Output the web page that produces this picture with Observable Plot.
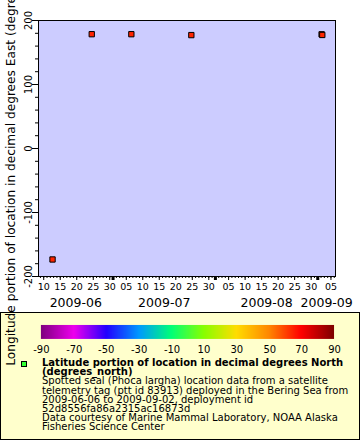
<!DOCTYPE html>
<html>
<head>
<meta charset="utf-8">
<script src="https://cdn.jsdelivr.net/npm/d3@7"></script>
<script src="https://cdn.jsdelivr.net/npm/@observablehq/plot@0.6"></script>
<style>
  html, body { margin: 0; padding: 0; background: white; }
  #wrap { position: relative; width: 360px; height: 440px; overflow: hidden; font-family: "DejaVu Sans", sans-serif; }
  #chart { position: absolute; left: 0; top: 0; z-index: 2; }
  #chart svg { overflow: visible; }
  #legend { position: absolute; left: 0; top: 312px; width: 360px; height: 128px; box-sizing: border-box;
            background: #ffffcc; border: 1px solid black; z-index: 1; }
  #cbar { position: absolute; left: -1px; top: -1px; }
  #cbar line { display: none; }
  #marker { position: absolute; left: 20px; top: 48px; width: 4px; height: 4px; background: #33ff33; border: 1px solid black; }
  #ltext { position: absolute; left: 41px; top: 45px; font-size: 10px; line-height: 9.2px; white-space: pre; color: black; }
  #ltext b { font-weight: bold; }
</style>
</head>
<body>
<div id="wrap">
  <div id="chart"></div>
  <div id="legend">
    <div id="cbar"></div>
    <div id="marker"></div>
    <div id="ltext"></div>
  </div>
</div>
<script>
// ---- data ----
const times = ["2009-06-12T16:00Z", "2009-06-24T13:00Z", "2009-07-06T13:00Z", "2009-07-24T17:00Z", "2009-09-02T04:00Z", "2009-09-02T09:00Z"];
const lons = [-173.4, 178.6, 178.6, 177.2, 178.4, 177.4];
const lats = [64.6, 64.8, 64.9, 64.7, 64.5, 64.6];

const colorStops = [-90, -70, -50, -30, -10, 10, 30, 50, 70, 90];
const colorRange = ["#800080", "#ee00ee", "#2200ff", "#0099ff", "#00ff77", "#88ff00", "#ffdd00", "#ff8800", "#ff0000", "#800000"];

const yMajor = [-200, -100, 0, 100, 200];
const yMinor = d3.range(-200, 201, 20);
const monthLabels = ["2009-06", "2009-07", "2009-08", "2009-09"];

const yLabel = "Longitude portion of location in decimal degrees East (degrees_east)";
const titleLines = ["Latitude portion of location in decimal degrees North", "(degrees_north)"];
const bodyLines = [
  "Spotted seal (Phoca largha) location data from a satellite",
  "telemetry tag (ptt id 83913) deployed in the Bering Sea from",
  "2009-06-06 to 2009-09-02, deployment id",
  "52d8556fa86a2315ac16873d",
  "Data courtesy of Marine Mammal Laboratory, NOAA Alaska",
  "Fisheries Science Center"
];

const xDomain = [new Date("2009-06-08T10:00Z"), new Date("2009-09-06T09:00Z")];

// ---- derived ----
const data = times.map((t, i) => ({time: new Date(t), lon: lons[i], lat: lats[i]}));
const days = d3.utcDay.range(d3.utcDay.ceil(xDomain[0]), xDomain[1]);
const fiveDays = days.filter(d => d.getUTCDate() % 5 === 0);
const dayLabels = fiveDays.map(d => ({date: d, label: d3.utcFormat("%d")(d)}));
const monthStarts = d3.utcMonth.range(d3.utcMonth.ceil(xDomain[0]), xDomain[1]);
const months = monthLabels.map(s => {
  const m0 = new Date(s + "-01T00:00Z");
  const m1 = d3.utcMonth.offset(m0, 1);
  const a = Math.max(+m0, +xDomain[0]), b = Math.min(+m1, +xDomain[1]);
  return {label: s, mid: new Date((a + b) / 2)};
});

const chart = Plot.plot({
  width: 360,
  height: 312,
  marginTop: 20,
  marginLeft: 38,
  marginRight: 25,
  marginBottom: 36,
  style: {background: "transparent", overflow: "visible", fontFamily: "DejaVu Sans", fontSize: "10px", color: "black"},
  x: {type: "utc", domain: xDomain},
  y: {domain: [-200, 200]},
  color: {type: "linear", domain: colorStops, range: colorRange},
  marks: [
    Plot.frame({fill: "#ccccff"}),
    Plot.axisY({ticks: yMinor, tickSize: 3, tickFormat: () => "", label: null}),
    Plot.axisY({ticks: yMajor, tickSize: 6, tickFormat: () => "", label: null}),
    Plot.text(yMajor, {y: d => d, text: d => String(d), frameAnchor: "left", dx: -7, rotate: -90, textAnchor: "middle", lineAnchor: "bottom", fontSize: 10}),
    Plot.text([yLabel], {frameAnchor: "left", dx: -24, dy: 7, rotate: -90, textAnchor: "middle", lineAnchor: "bottom", fontSize: 12.2}),
    Plot.axisX({ticks: days, tickSize: 2, tickFormat: () => "", label: null}),
    Plot.axisX({ticks: fiveDays, tickSize: 4, tickFormat: () => "", label: null}),
    Plot.text(dayLabels, {x: "date", text: "label", frameAnchor: "bottom", dy: 13, lineAnchor: "bottom", fontSize: 9.5}),
    Plot.axisX({ticks: monthStarts, tickSize: 4, strokeWidth: 3, tickFormat: () => "", label: null}),
    Plot.text(months, {x: "mid", text: "label", frameAnchor: "bottom", dy: 30, lineAnchor: "bottom", fontSize: 12.5}),
    Plot.frame({stroke: "black"}),
    Plot.dot(data, {x: "time", y: "lon", fill: "lat", symbol: "square", r: 3, stroke: "black", strokeWidth: 1})
  ]
});
document.getElementById("chart").appendChild(chart);

const cbar = Plot.legend({
  legend: "ramp",
  color: {type: "linear", domain: colorStops, range: colorRange},
  width: 360,
  height: 47,
  marginTop: 13,
  marginBottom: 20,
  marginLeft: 41,
  marginRight: 25,
  ticks: colorStops,
  tickSize: 4,
  tickFormat: d => String(d),
  style: {fontFamily: "DejaVu Sans", fontSize: "10px", color: "black", background: "transparent"}
});
document.getElementById("cbar").appendChild(cbar);

const lt = document.getElementById("ltext");
lt.innerHTML = "<b>" + titleLines.join("\n") + "</b>\n" + bodyLines.join("\n");
</script>
</body>
</html>
